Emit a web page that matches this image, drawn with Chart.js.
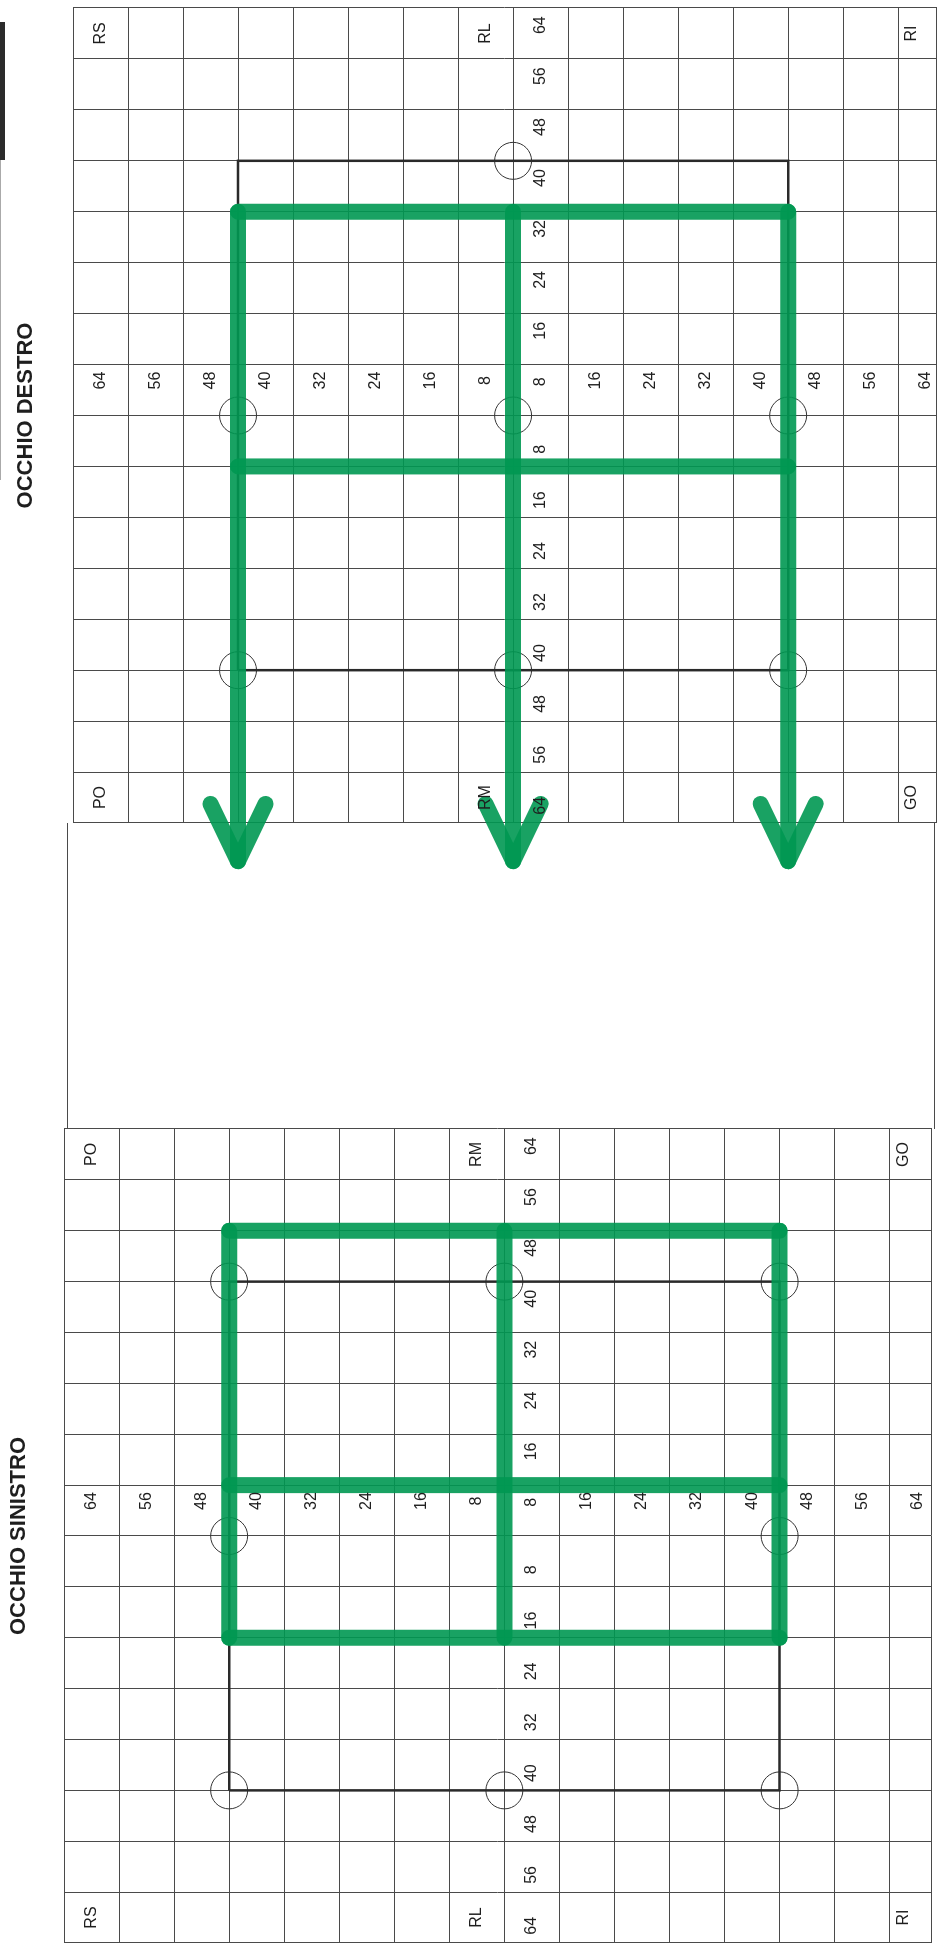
<!DOCTYPE html>
<html lang="it">
<head>
<meta charset="utf-8">
<title>Schermo di Hess</title>
<script src="https://cdn.jsdelivr.net/npm/chart.js@4.4.1/dist/chart.umd.min.js"></script>
<style>
  html, body { margin: 0; padding: 0; background: #fff; }
  body { width: 939px; height: 1955px; overflow: hidden; position: relative; }
  /* la scheda e' disegnata in orizzontale e poi girata di 90 gradi */
  #sheet { position: absolute; left: 0; top: 0; width: 1955px; height: 939px;
           transform-origin: 0 0; transform: translate(0, 1955px) rotate(-90deg); }
  #sheet canvas { position: absolute; left: 0; top: 0; }
  .strip { position: absolute; top: 0; left: 1795px; width: 138px; height: 5px; background: #2b2b2b; }
  .strip.thin { left: 1475px; width: 320px; height: 1px; background: #aaa; }
  .gap { position: absolute; left: 826px; width: 306px; top: 67px; height: 866px;
         border-top: 1px solid #4a4a4a; border-bottom: 1px solid #4a4a4a; }
</style>
</head>
<body>
<div id="sheet">
  <div class="strip"></div>
  <div class="strip thin"></div>
  <div class="gap"></div>
  <canvas id="os" width="1955" height="939"></canvas>
  <canvas id="od" width="1955" height="939"></canvas>
</div>

<script>
"use strict";

// righe della griglia, una ogni 8
const gridSteps = [-64, -56, -48, -40, -32, -24, -16, -8, 0, 8, 16, 24, 32, 40, 48, 56, 64];
const scaleLabels = [8, 16, 24, 32, 40, 48, 56, 64];

// campo atteso (rettangolo nero): colonne e righe dei 9 punti
const targetH = [-40, 0, 40];
const targetW = [40, 0, -40];

// cerchietti stampati sulla scheda (h, w)
const osCirclesH = [-40, -40, -40, 0, 0, 40, 40, 40];
const osCirclesW = [40, 0, -40, 40, -40, 40, 0, -40];
const odCirclesH = [-40, -40, -40, 0, 0, 0, 40];
const odCirclesW = [40, 0, -40, 40, 0, -40, 0];

// tracciato verde: colonna misurata per ogni colonna del campo (stesse righe targetW)
const osPlotH = [-16, 8, 48];
const odPlotH = [-70, -8, 32]; // -70 = oltre lo schermo, disegnato con freccia

// muscoli: colonna sinistra (alto, centro, basso) e poi colonna destra
const osMuscles = ["RS", "RL", "RI", "PO", "RM", "GO"];
const odMuscles = ["PO", "RM", "GO", "RS", "RL", "RI"];

const LIMIT = 64;
const green = "rgba(0, 152, 82, 0.9)";
const ink = "#1e1e1e";
const gridColor = "#4a4a4a";
const fontFamily = '"Liberation Sans", Arial, sans-serif';

//Costruisce tutti i dataset per un occhio
function buildDatasets(plotH, circlesH, circlesW) {
  const sets = [];
  const onScreen = plotH.filter(h => Math.abs(h) <= LIMIT);
  const lo = Math.min(...plotH);
  const hi = Math.max(...plotH);

  // linee verdi verticali (solo le colonne dentro lo schermo)
  onScreen.forEach(h => {
    sets.push(greenLine(targetW.map(w => ({ x: h, y: w }))));
  });

  // linee verdi orizzontali, da destra verso sinistra
  targetW.forEach(w => {
    sets.push(greenLine([{ x: hi, y: w }, { x: lo, y: w }]));
    // freccia se il punto e' fuori dallo schermo
    if (Math.abs(lo) > LIMIT) {
      const back = lo + 9 * Math.sign(hi - lo);
      sets.push(greenLine([{ x: back, y: w + 4 }, { x: lo, y: w }, { x: back, y: w - 4 }]));
    }
  });

  // rettangolo nero del campo atteso
  const h0 = Math.min(...targetH), h1 = Math.max(...targetH);
  const w0 = Math.min(...targetW), w1 = Math.max(...targetW);
  sets.push({
    data: [{ x: h0, y: w1 }, { x: h1, y: w1 }, { x: h1, y: w0 }, { x: h0, y: w0 }, { x: h0, y: w1 }],
    showLine: true, borderColor: "#2a2a2a", borderWidth: 2.5, pointRadius: 0, order: 1
  });

  // cerchietti
  sets.push({
    data: circlesH.map((h, i) => ({ x: h, y: circlesW[i] })),
    showLine: false, pointRadius: 18.5, pointStyle: "circle",
    borderColor: "#333", borderWidth: 1, backgroundColor: "rgba(0,0,0,0)", order: 2
  });
  return sets;
}

function greenLine(points) {
  return {
    data: points, showLine: true, borderColor: green, borderWidth: 16,
    borderCapStyle: "round", borderJoinStyle: "round", pointRadius: 0, clip: false, order: 0
  };
}

function axis(min) {
  return {
    type: "linear", min: min, max: LIMIT,
    afterBuildTicks: scale => {
      scale.ticks = gridSteps.filter(v => v >= min).map(v => ({ value: v }));
    },
    ticks: { display: false },
    grid: { color: gridColor, lineWidth: 1, drawTicks: false },
    border: { display: true, color: gridColor, width: 1 }
  };
}

//Scrive le sigle dei muscoli e i numeri sulla croce centrale
const hessLabels = {
  id: "hessLabels",
  afterDatasetsDraw(chart, args, opts) {
    const { ctx, scales: { x, y } } = chart;
    const rowW = [60, 4, -58];
    ctx.save();
    ctx.fillStyle = ink;
    ctx.font = "16px " + fontFamily;
    ctx.textAlign = "center";
    ctx.textBaseline = "middle";

    opts.muscles.forEach((m, i) => {
      const h = i < 3 ? -60 : 60;
      ctx.fillText(m, x.getPixelForValue(h), y.getPixelForValue(rowW[i % 3]));
    });

    // numeri orizzontali, nella riga sotto il centro
    scaleLabels.forEach(v => {
      ctx.fillText(String(v), x.getPixelForValue(-(v - 2.7)), y.getPixelForValue(-4));
      ctx.fillText(String(v), x.getPixelForValue(v - 2.7), y.getPixelForValue(-4));
    });
    // numeri verticali, nella colonna a destra del centro
    scaleLabels.forEach(v => {
      ctx.fillText(String(v), x.getPixelForValue(5.5), y.getPixelForValue(v - 4));
      if (v > 8) ctx.fillText(String(v), x.getPixelForValue(5.5), y.getPixelForValue(-(v - 4)));
    });
    ctx.restore();
  }
};

function drawEye(canvasId, cfg) {
  const canvas = document.getElementById(canvasId);
  if (!canvas) return;
  new Chart(canvas, {
    type: "scatter",
    data: { datasets: buildDatasets(cfg.plotH, cfg.circlesH, cfg.circlesW) },
    options: {
      responsive: false,
      animation: false,
      events: [],
      layout: { padding: cfg.padding, autoPadding: false },
      plugins: {
        legend: { display: false },
        tooltip: { enabled: false },
        title: {
          display: true, text: cfg.title, color: ink,
          font: { family: fontFamily, size: 22, weight: "bold", lineHeight: 1.2 },
          padding: { top: 0, bottom: cfg.titleGap }
        },
        hessLabels: { muscles: cfg.muscles }
      },
      scales: { x: axis(-LIMIT), y: axis(cfg.wMin) }
    },
    plugins: [hessLabels]
  });
}

drawEye("os", {
  title: "OCCHIO SINISTRO", plotH: osPlotH, circlesH: osCirclesH, circlesW: osCirclesW,
  muscles: osMuscles, wMin: -62,
  padding: { left: 12, right: 1129, top: 6, bottom: 8 }, titleGap: 31.6
});

drawEye("od", {
  title: "OCCHIO DESTRO", plotH: odPlotH, circlesH: odCirclesH, circlesW: odCirclesW,
  muscles: odMuscles, wMin: -61.5,
  padding: { left: 1132, right: 8, top: 13, bottom: 3 }, titleGap: 33.6
});
</script>
</body>
</html>
